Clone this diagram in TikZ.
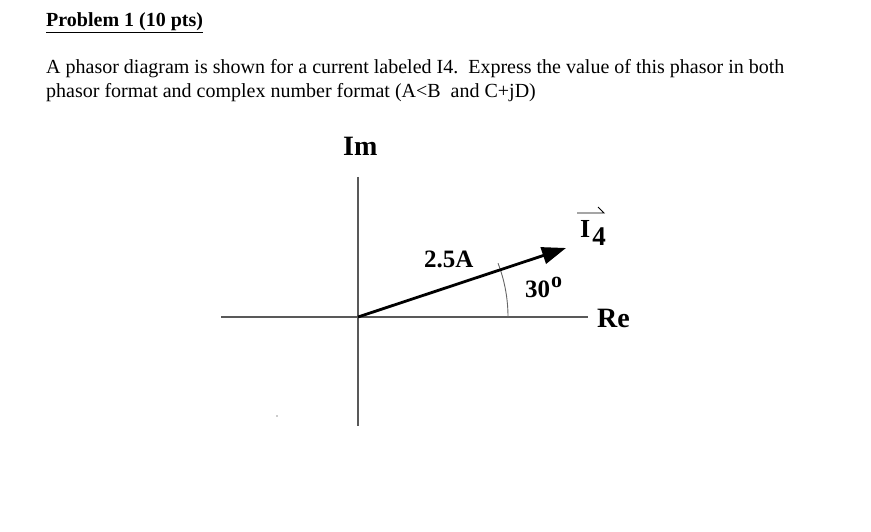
\documentclass[tikz,border=0pt]{standalone}
\usepackage{fontspec}
\setmainfont{Liberation Serif}
\usetikzlibrary{arrows.meta}
\begin{document}
\begin{tikzpicture}[x=1pt,y=-1pt,
  txt/.style={anchor=base west,inner sep=0pt,font=\fontsize{20}{20}\selectfont},
  lbl/.style={anchor=base west,inner sep=0pt,font=\bfseries\fontsize{25}{25}\selectfont},
  axis/.style={draw=black!65,line width=1.4pt},
  phasor/.style={line width=2.8pt,-{Triangle[length=24pt,width=17pt]}},
  anglearc/.style={draw=black!60,line width=0.9pt}]
\useasboundingbox[fill=white] (0,0) rectangle (871,532);
\node[txt,font=\bfseries\fontsize{20}{20}\selectfont] (title) at (46,27) {\underline{Problem 1 (10 pts)}};
\node[txt] (l1) at (46,74) {A phasor diagram is shown for a current labeled I4.\ \ Express the value of this phasor in both};
\node[txt] (l2) at (46,98) {phasor format and complex number format (A<B\ \ and C+jD)};
% axes
\coordinate (O) at (358,317);
\coordinate (xl) at (221,317);
\coordinate (xr) at (588,317);
\coordinate (yt) at (358,177);
\coordinate (yb) at (358,426);
\draw[axis] (xl) -- (xr);
\draw[axis] (yt) -- (yb);
% angle arc
\draw[anglearc] ([shift={(150,0)}]O) arc[start angle=0,end angle=-21,radius=150];
% phasor
\coordinate (T) at (566,248);
\draw[phasor] (O) -- (T);
% labels
\node[lbl,font=\bfseries\fontsize{28}{28}\selectfont] (im) at (343,156) {Im};
\node[lbl,font=\bfseries\fontsize{28}{28}\selectfont] (re) at (597,327) {Re};
\node[lbl] (mag) at (424,267) {2.5A};
\node[lbl] (ang) at (525,298) {30\kern1pt\raisebox{10pt}{\fontsize{22}{22}\selectfont o}};
\node[lbl,font=\bfseries\fontsize{26}{26}\selectfont] (i4) at (580,237) {I\kern2pt\raisebox{-8pt}{\fontsize{27}{27}\selectfont 4}};
\coordinate (va) at (577,213);
\coordinate (vb) at (604,213);
\coordinate (vc) at (598,207);
\draw[line width=0.9pt] (va) -- (vb) -- (vc);
% stray dot
\fill[black!40] (277,416) circle (0.8);
\end{tikzpicture}
\end{document}
